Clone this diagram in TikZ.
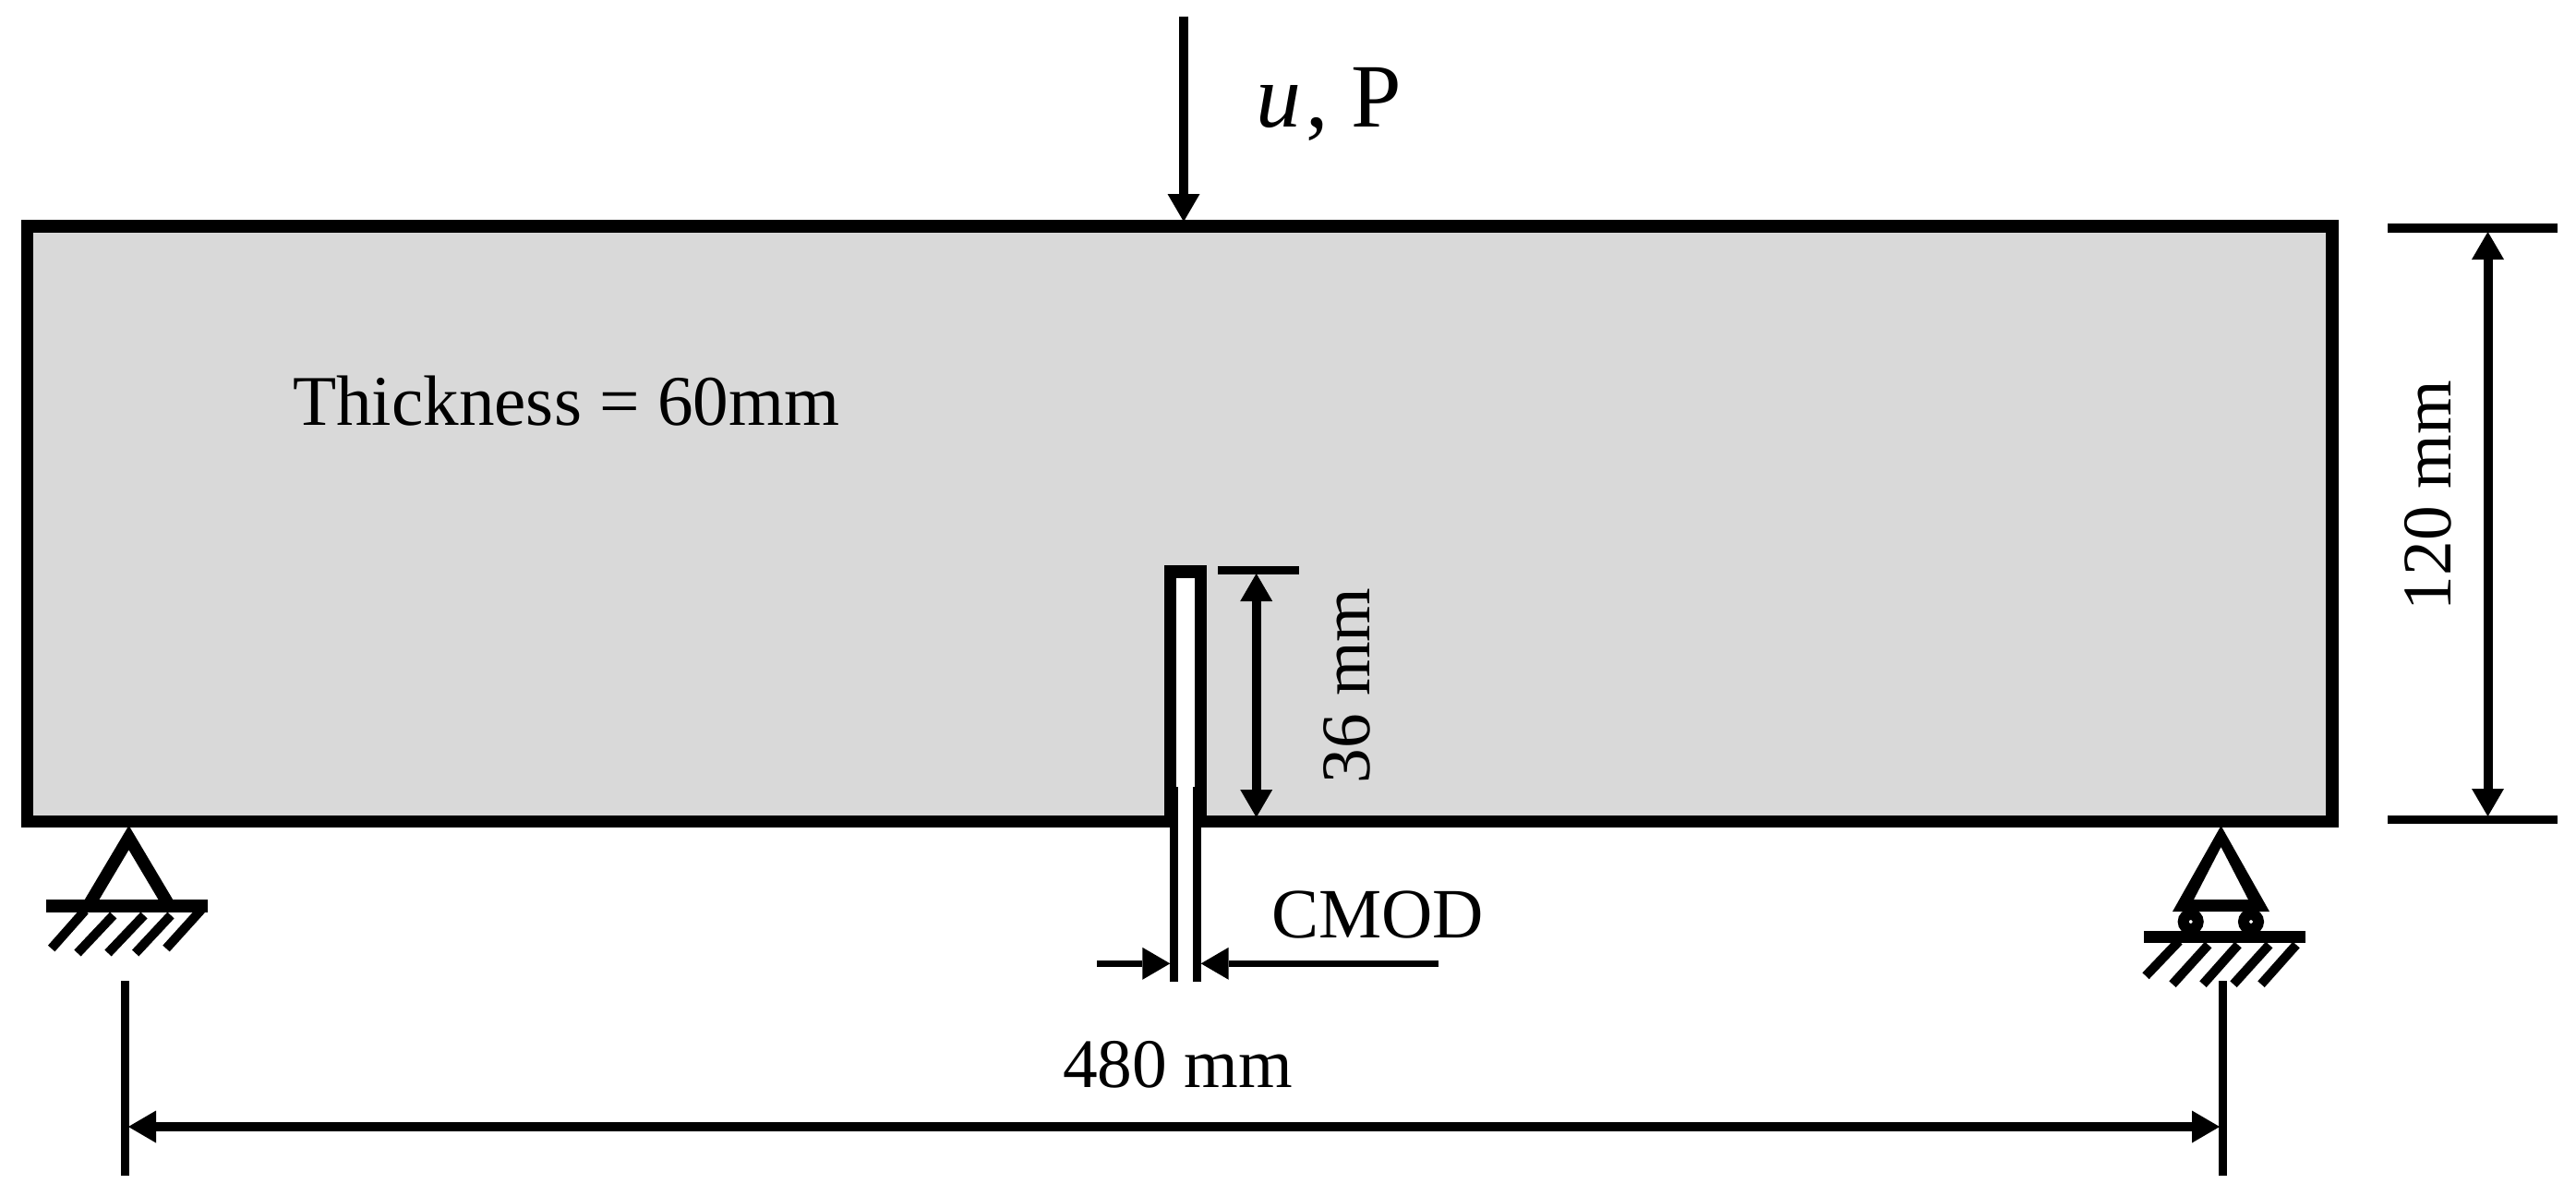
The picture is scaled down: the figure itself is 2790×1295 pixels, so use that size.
\documentclass[tikz,border=0pt]{standalone}
\usepackage{fontspec}
\setmainfont{Liberation Serif}
\usetikzlibrary{arrows.meta}
\definecolor{beamgray}{HTML}{D9D9D9}
\tikzset{
  txt/.style={inner sep=0pt,outer sep=0pt,anchor=base west,text=black,font=\fontsize{37.7pt}{40pt}\selectfont},
  tipA/.tip={Triangle[length=15pt,width=17.5pt,line width=0pt]},
  dim/.style={line width=5pt,-{tipA}},
  dimtwo/.style={line width=5pt,{tipA}-{tipA}},
  tick/.style={line width=4.7pt},
  hatch/.style={line width=5pt},
  beam/.style={line width=6.75pt,draw=black,fill=beamgray,miter limit=10}
}
\begin{document}
\begin{tikzpicture}[x=0.5pt,y=-0.5pt]
\useasboundingbox (0,0) rectangle (2790,1295);
% beam with notch
\draw[beam] (29.5,245) -- (2526,245) -- (2526,889.5) -- (1300.5,889.5) -- (1300.5,619) -- (1267.5,619) -- (1267.5,889.5) -- (29.5,889.5) -- cycle;
% CMOD gauge lines
\draw[tick] (1271.7,852) -- (1271.7,1063);
\draw[tick] (1296.3,852) -- (1296.3,1063);
% load arrow
\coordinate (loadtop) at (1282,18);
\coordinate (loadend) at (1282,240);
\draw[dim] (loadtop) -- (loadend);
\node[txt,font=\fontsize{49pt}{52pt}\selectfont] (load) at (1360,138) {{\itshape u\kern 2.5pt}, \kern 0.5pt P};
% thickness
\node[txt,font=\fontsize{38.6pt}{40pt}\selectfont] (thick) at (317,460) {Thickness = 60mm};
% 36 mm dimension
\coordinate (ntickl) at (1319,617.3);
\coordinate (ntickr) at (1407,617.3);
\draw[tick] (ntickl) -- (ntickr);
\coordinate (ntop) at (1360.7,621);
\coordinate (nbot) at (1360.7,885);
\draw[dimtwo] (ntop) -- (nbot);
\node[txt,rotate=90] (d36) at (1483,848) {36 mm};
% CMOD
\node[txt,font=\fontsize{38.3pt}{40pt}\selectfont] (cmod) at (1377,1015.7) {CMOD};
\coordinate (cl0) at (1188,1043.3);
\coordinate (cl1) at (1267.3,1043.3);
\coordinate (cr0) at (1558,1043.3);
\coordinate (cr1) at (1300.7,1043.3);
\draw[line width=3.5pt,-{tipA}] (cl0) -- (cl1);
\draw[line width=3.5pt,-{tipA}] (cr0) -- (cr1);
% 120 mm dimension
\coordinate (tt0) at (2586,246.5);
\coordinate (tt1) at (2770,246.5);
\coordinate (tb0) at (2586,887.5);
\coordinate (tb1) at (2770,887.5);
\draw[line width=5pt] (tt0) -- (tt1);
\draw[tick] (tb0) -- (tb1);
\coordinate (h0) at (2694.5,251);
\coordinate (h1) at (2694.5,884);
\draw[dimtwo] (h0) -- (h1);
\node[txt,rotate=90] (d120) at (2654,661) {120 mm};
% 480 mm dimension
\coordinate (lv0) at (135.5,1062);
\coordinate (lv1) at (135.5,1273);
\coordinate (rv0) at (2407.5,1062);
\coordinate (rv1) at (2407.5,1273);
\draw[tick] (lv0) -- (lv1);
\draw[tick] (rv0) -- (rv1);
\coordinate (s0) at (139,1220);
\coordinate (s1) at (2404,1220);
\draw[dimtwo] (s0) -- (s1);
\node[txt] (d480) at (1151,1177.7) {480 mm};
% left support
\draw[line width=6.75pt,miter limit=10] (95.5,981) -- (139.5,907) -- (183.5,981);
\draw[line width=7pt] (50,981) -- (225,981);
\draw[hatch] (55.7,1027) -- (92,986);
\draw[hatch] (84,1032) -- (122.7,991);
\draw[hatch] (117,1032) -- (156,991);
\draw[hatch] (146.7,1032) -- (185,991);
\draw[hatch] (180,1027) -- (218,985);
% right support
\fill[even odd rule] (2405.5,894) -- (2353,987) -- (2458,987) -- cycle
      (2405.5,917) -- (2376,974) -- (2435,974) -- cycle;
\draw[line width=6pt] (2372.7,998) circle[radius=8];
\draw[line width=6pt] (2438,998) circle[radius=8];
\draw[line width=6.75pt] (2322,1014.5) -- (2497,1014.5);
\draw[hatch] (2324,1056.7) -- (2360,1019);
\draw[hatch] (2353,1065.7) -- (2391.7,1023);
\draw[hatch] (2386,1065.7) -- (2424,1023);
\draw[hatch] (2419,1065.7) -- (2457.7,1023);
\draw[hatch] (2449,1065.7) -- (2487,1023);
\end{tikzpicture}
\end{document}
